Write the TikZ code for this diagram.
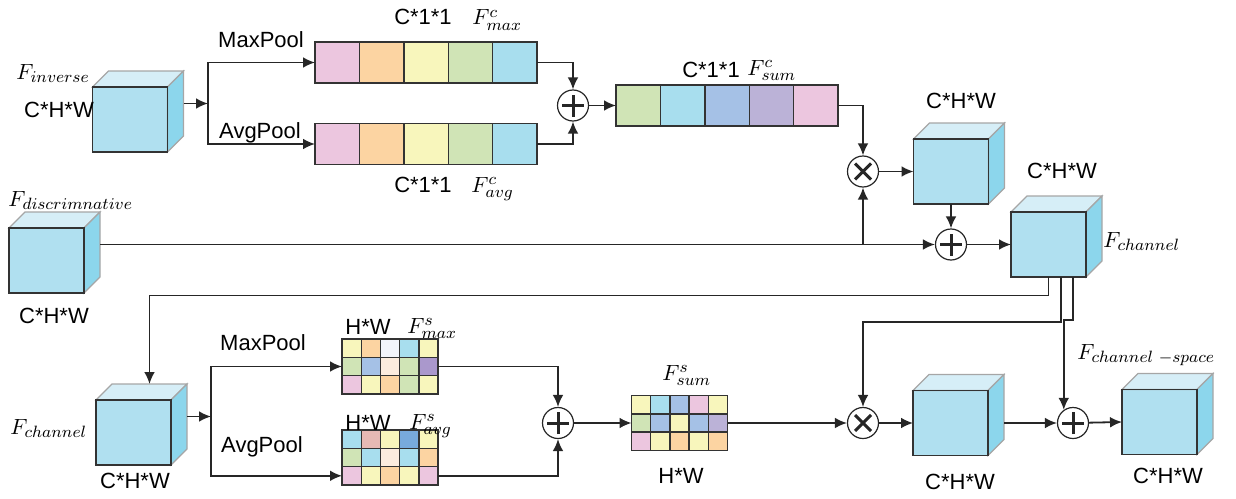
\documentclass[tikz,border=0pt]{standalone}
\usepackage{fix-cm}
\usepackage{fontspec}
\newfontfamily\labfont{Liberation Sans}
\DeclareMathSizes{10}{11}{8.2}{6.5}
\usetikzlibrary{arrows.meta,calc}
\definecolor{cubeF}{RGB}{176,224,240}
\definecolor{cubeT}{RGB}{214,238,247}
\definecolor{cubeS}{RGB}{140,214,236}
\definecolor{pinkc}{RGB}{236,198,223}
\definecolor{orangec}{RGB}{252,212,162}
\definecolor{yellowc}{RGB}{248,246,188}
\definecolor{greenc}{RGB}{208,228,182}
\definecolor{bluec}{RGB}{168,222,238}
\definecolor{mbluec}{RGB}{165,193,230}
\definecolor{purplec}{RGB}{187,178,215}
\definecolor{dpurplec}{RGB}{170,152,204}
\definecolor{whitec}{RGB}{243,244,250}
\definecolor{peachc}{RGB}{252,236,222}
\definecolor{rosec}{RGB}{230,185,180}
\definecolor{sbluec}{RGB}{120,170,220}
\tikzset{
  arr/.style={-{Latex[length=6pt,width=5.4pt]}, line width=0.9pt, draw=black!85},
  cubefront/.style={rectangle, fill=cubeF, draw=none, minimum width=37.5pt, minimum height=32.5pt, inner sep=0pt, outer sep=0pt},
  cubetop/.style={fill=cubeT, draw=gray!70, line width=0.6pt},
  cubeside/.style={fill=cubeS, draw=gray!70, line width=0.6pt},
  cubeedge/.style={draw=black!80, line width=0.7pt},
  opl/.style={circle, draw=black!85, line width=0.6pt, fill=white, minimum size=15.5pt, inner sep=0pt,
    path picture={\draw[line width=1.5pt]
      ([xshift=-5.5pt]path picture bounding box.center) -- ([xshift=5.5pt]path picture bounding box.center)
      ([yshift=-5.5pt]path picture bounding box.center) -- ([yshift=5.5pt]path picture bounding box.center);}},
  otm/.style={circle, draw=black!85, line width=0.6pt, fill=white, minimum size=15.5pt, inner sep=0pt,
    path picture={\draw[line width=1.5pt]
      ([shift={(-4pt,-4pt)}]path picture bounding box.center) -- ([shift={(4pt,4pt)}]path picture bounding box.center)
      ([shift={(-4pt,4pt)}]path picture bounding box.center) -- ([shift={(4pt,-4pt)}]path picture bounding box.center);}},
  bar/.style={rectangle, minimum width=111pt, minimum height=20.5pt, inner sep=0pt, outer sep=0pt},
  hwgrid/.style={rectangle, minimum width=48pt, minimum height=27.5pt, inner sep=0pt, outer sep=0pt},
  cell/.style={draw=black!80, line width=0.7pt},
  lab/.style={font=\labfont\fontsize{11}{13}\selectfont, inner sep=0pt, anchor=base},
  mlab/.style={font=\fontsize{10}{12}\selectfont, inner sep=0pt, anchor=base west},
}
\newcommand\mycube[2]{%
  \node[cubefront] (#1) at (#2) {};
  \filldraw[cubetop] (#1.north west) -- ++(16,-16) -- ($(#1.north east)+(16,-16)$) -- (#1.north east) -- cycle;
  \filldraw[cubeside] (#1.north east) -- ++(16,-16) -- ($(#1.south east)+(16,-16)$) -- (#1.south east) -- cycle;
  \draw[cubeedge] (#1.north west) rectangle (#1.south east);
  \coordinate (#1r) at ($(#1.east)+(16,-16)$);
  \coordinate (#1t) at ($(#1.north)+(16,-16)$);
  \coordinate (#1s) at ($(#1.east)+(16,0)$);
}
\newcommand\mybar[2]{%
  \foreach \c [count=\i from 0] in {#2} {
    \filldraw[fill=\c, cell] ($(#1.north west)+(\i*44.4,0)$) rectangle ++(44.4,41);
  }
}
\newcommand\mygrid[2]{%
  \foreach \c [count=\i from 0] in {#2} {
    \pgfmathtruncatemacro\cc{mod(\i,5)}
    \pgfmathtruncatemacro\rr{div(\i,5)}
    \filldraw[fill=\c, cell] ($(#1.north west)+(\cc*19.2,\rr*18.33)$) rectangle ++(19.2,18.33);
  }
}
\begin{document}
\begin{tikzpicture}[x=0.5pt,y=-0.5pt]
\useasboundingbox (0,0) rectangle (1236,498);

% cubes
\mycube{c1}{130,119.5}
\mycube{c0}{46.5,260.5}
\mycube{c2}{951,171.5}
\mycube{c3}{1048.5,244.5}
\mycube{c4}{133.5,432.5}
\mycube{c5}{950.5,423}
\mycube{c6}{1159.5,422}

% bars
\node[bar] (maxbar) at (426,62.5) {};
\node[bar] (avgbar) at (426,144) {};
\node[bar] (sumbar) at (727,105.5) {};
\mybar{maxbar}{pinkc,orangec,yellowc,greenc,bluec}
\mybar{avgbar}{pinkc,orangec,yellowc,greenc,bluec}
\mybar{sumbar}{greenc,bluec,mbluec,purplec,pinkc}

% grids
\node[hwgrid] (gmax) at (390,366.5) {};
\node[hwgrid] (gavg) at (390,457.5) {};
\node[hwgrid] (gsum) at (679.5,423) {};
\mygrid{gmax}{yellowc,orangec,whitec,bluec,yellowc,greenc,mbluec,peachc,greenc,dpurplec,pinkc,yellowc,orangec,greenc,yellowc}
\mygrid{gavg}{bluec,rosec,yellowc,sbluec,yellowc,greenc,bluec,peachc,bluec,orangec,pinkc,yellowc,orangec,yellowc,pinkc}
\mygrid{gsum}{yellowc,bluec,mbluec,pinkc,yellowc,greenc,mbluec,yellowc,mbluec,purplec,pinkc,yellowc,orangec,yellowc,orangec}

% operators
\node[opl] (opl0) at (573,105.5) {};
\node[otm] (otm1) at (863,171.5) {};
\node[opl] (opl1) at (951,244.5) {};
\node[opl] (opl3) at (558,423) {};
\node[otm] (otm2) at (863,423) {};
\node[opl] (opl2) at (1073,423) {};

% helper coordinates
\coordinate (sp1) at (208,103.5);
\coordinate (sp2) at (211,416.5);
\coordinate (gavgin) at ($(gavg.south west)+(0,-9.2)$);
\coordinate (gavgout) at ($(gavg.south east)+(0,-9.2)$);

% connectors (channel part)
\draw[arr] (c1r) -- (sp1);
\draw[arr] (sp1) |- (maxbar.west);
\draw[arr] (sp1) |- (avgbar.west);
\draw[arr] (maxbar.east) -| (opl0.north);
\draw[arr] (avgbar.east) -| (opl0.south);
\draw[arr] (opl0) -- (sumbar.west);
\draw[arr] (sumbar.east) -| (otm1.north);
\draw[arr] (otm1) -- (c2.west);
\draw[arr] (c2.south) -- (opl1.north);
\draw[arr] (c0r) -- (opl1.west);
\draw[arr] (otm1 |- c0r) -- (otm1.south);
\draw[arr] (opl1) -- (c3.west);

% feedback lines
\draw[arr] (c3.south) -- ++(0,18.5) -| (c4t);
\draw[arr] ($(c3.south)+(12.5,0)$) -- ++(0,45) -| (otm2.north);
\draw[arr] ($(c3.south)+(24.5,0)$) -- ++(0,43) -| (opl2.125);

% connectors (spatial part)
\draw[arr] (c4r) -- (sp2);
\draw[arr] (sp2) |- (gmax.west);
\draw[arr] (sp2) |- (gavgin);
\draw[arr] (gmax.east) -| (opl3.north);
\draw[arr] (gavgout) -| (opl3.south);
\draw[arr] (opl3) -- (gsum.west);
\draw[arr] (gsum.east) -- (otm2.west);
\draw[arr] (otm2) -- (c5.west);
\draw[arr] (c5s) -- (opl2.west);
\draw[arr] (opl2) -- (c6.west);

% sans labels
\node[lab] (l1) at (59,117) {C*H*W};
\node[lab] (l2) at (261,47) {MaxPool};
\node[lab] (l3) at (260,138) {AvgPool};
\node[lab] (l4) at (423,25) {C*1*1};
\node[lab] (l5) at (423,192) {C*1*1};
\node[lab] (l6) at (711,77) {C*1*1};
\node[lab] (l7) at (961,108) {C*H*W};
\node[lab] (l8) at (1062,178) {C*H*W};
\node[lab] (l9) at (54,323) {C*H*W};
\node[lab] (l10) at (135,488) {C*H*W};
\node[lab] (l11) at (263,350) {MaxPool};
\node[lab] (l12) at (262,452) {AvgPool};
\node[lab] (l13) at (368,334) {H*W};
\node[lab] (l14) at (368,430) {H*W};
\node[lab] (l15) at (681,483) {H*W};
\node[lab] (l16) at (960,489) {C*H*W};
\node[lab] (l17) at (1168,483) {C*H*W};

% math labels
\node[mlab] (m1) at (16,79) {$F_{inverse}$};
\node[mlab] (m2) at (472,25) {$F^{c}_{max}$};
\node[mlab] (m3) at (471,192) {$F^{c}_{avg}$};
\node[mlab] (m4) at (747,75) {$F^{c}_{sum}$};
\node[mlab] (m5) at (1103,247) {$F_{channel}$};
\node[mlab] (m6) at (8,206) {$F_{discrimnative}$};
\node[mlab] (m7) at (10,434) {$F_{channel}$};
\node[mlab] (m8) at (407,333) {$F^{s}_{max}$};
\node[mlab] (m9) at (409,429) {$F^{s}_{avg}$};
\node[mlab] (m10) at (662,380) {$F^{s}_{sum}$};
\node[mlab] (m11) at (1077,359) {$F_{channel\,\,-space}$};
\end{tikzpicture}
\end{document}
